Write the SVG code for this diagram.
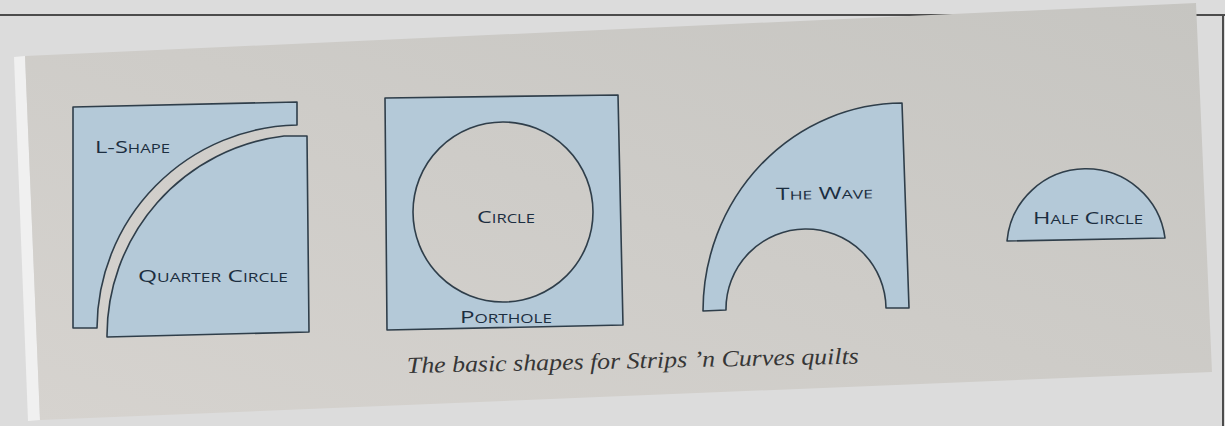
<svg xmlns="http://www.w3.org/2000/svg" width="1225" height="426" viewBox="0 0 1225 426">
  <defs>
    <linearGradient id="paper" x1="0" y1="1" x2="1" y2="0">
      <stop offset="0" stop-color="#d6d3cf"/>
      <stop offset="1" stop-color="#c6c5c1"/>
    </linearGradient>
    <style>
      .shape { fill: #b4c9d8; stroke: #2f3e4a; stroke-width: 1.6; stroke-linejoin: round; }
      .label { font-family: "Open Sans", Lato, sans-serif; font-variant: small-caps; font-size: 17px; fill: #1c2e40; }
      .caption { font-family: "Liberation Serif", serif; font-style: italic; font-size: 23px; fill: #363636; }
    </style>
  </defs>
  <rect x="0" y="0" width="1225" height="426" fill="#dcdcdc"/>
  <line x1="0" y1="15" x2="1225" y2="15" stroke="#4c4c4c" stroke-width="2"/>
  <line x1="1223" y1="15" x2="1223" y2="426" stroke="#4c4c4c" stroke-width="2"/>
  <g id="page">
    <polygon points="14,57 25,56 40,420 28,421" fill="#f0f0f0"/>
    <polygon points="25,56 1196,3 1212,372 40,420" fill="url(#paper)"/>
  </g>
  <g id="l-shape">
    <path class="shape" d="M73,107 L297,102 L297,125 A204,204 0 0 0 97,328 L73,328 Z"/>
    <text class="label" x="95" y="153" textLength="75" lengthAdjust="spacingAndGlyphs">L-Shape</text>
  </g>
  <g id="quarter-circle">
    <path class="shape" d="M107,337 A201,201 0 0 1 284,136 L307,136 L309,332 Z"/>
    <text class="label" x="138" y="282" textLength="150" lengthAdjust="spacingAndGlyphs">Quarter Circle</text>
  </g>
  <g id="porthole">
    <path class="shape" fill-rule="evenodd" d="M385,98 L618,95 L623,325 L387,330 Z M593,212 A90,90 0 1 0 413,212 A90,90 0 1 0 593,212 Z"/>
    <text class="label" x="477" y="223" textLength="58" lengthAdjust="spacingAndGlyphs">Circle</text>
    <text class="label" x="460" y="323" textLength="92" lengthAdjust="spacingAndGlyphs">Porthole</text>
  </g>
  <g id="wave">
    <path class="shape" d="M703,311 A200,208 0 0 1 902,103 L909,308 L886,308 A80,80 0 0 0 726,310 Z"/>
    <text class="label" x="776" y="200" textLength="97" lengthAdjust="spacingAndGlyphs" transform="rotate(-1 776 200)">The Wave</text>
  </g>
  <g id="half-circle">
    <path class="shape" d="M1007,241 A79.5,79.5 0 0 1 1165,238 Z"/>
    <text class="label" x="1033" y="224" textLength="110" lengthAdjust="spacingAndGlyphs">Half Circle</text>
  </g>
  <g id="caption">
    <text class="caption" x="407" y="373" textLength="452" lengthAdjust="spacingAndGlyphs" transform="rotate(-1.2 407 373)">The basic shapes for Strips ’n Curves quilts</text>
  </g>
</svg>
